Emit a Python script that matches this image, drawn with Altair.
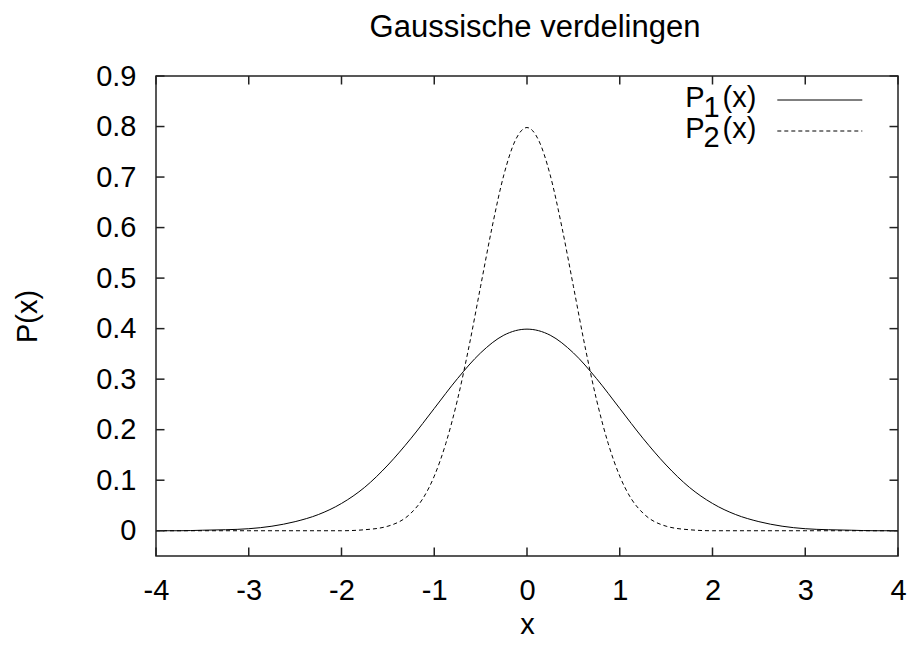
import altair as alt
import pandas as pd

# ---- data ----
x1 = [-4.0, -3.75, -3.5, -3.25, -3.0, -2.75, -2.5, -2.25, -2.0, -1.75, -1.5, -1.25,
      -1.0, -0.75, -0.5, -0.25, 0.0, 0.25, 0.5, 0.75, 1.0, 1.25, 1.5, 1.75, 2.0,
      2.25, 2.5, 2.75, 3.0, 3.25, 3.5, 3.75, 4.0]
p1 = [0.000, 0.000, 0.001, 0.002, 0.004, 0.009, 0.018, 0.032, 0.054, 0.086, 0.130, 0.183,
      0.242, 0.301, 0.352, 0.387, 0.399, 0.387, 0.352, 0.301, 0.242, 0.183, 0.130, 0.086, 0.054,
      0.032, 0.018, 0.009, 0.004, 0.002, 0.001, 0.000, 0.000]

x2 = [-4.0, -3.5, -3.0, -2.5, -2.0, -1.75, -1.5, -1.25, -1.125, -1.0, -0.875, -0.75,
      -0.625, -0.5, -0.375, -0.25, -0.125, 0.0, 0.125, 0.25, 0.375, 0.5, 0.625, 0.75,
      0.875, 1.0, 1.125, 1.25, 1.5, 1.75, 2.0, 2.5, 3.0, 3.5, 4.0]
p2 = [0.000, 0.000, 0.000, 0.000, 0.000, 0.002, 0.009, 0.035, 0.063, 0.108, 0.173, 0.259,
      0.365, 0.484, 0.602, 0.704, 0.773, 0.798, 0.773, 0.704, 0.602, 0.484, 0.365, 0.259,
      0.173, 0.108, 0.063, 0.035, 0.009, 0.002, 0.000, 0.000, 0.000, 0.000, 0.000]

x_ticks = [-4, -3, -2, -1, 0, 1, 2, 3, 4]
y_ticks = [0, 0.1, 0.2, 0.3, 0.4, 0.5, 0.6, 0.7, 0.8, 0.9]

title_text = "Gaussische verdelingen"
x_title = "x"
y_title = "P(x)"
legend_main = "P"
legend_sub = ["1", "2"]
legend_tail = "(x)"

# ---- layout / style ----
W, H = 742, 480
FONT = "Liberation Sans"
FS = 29
BORDER = "#222222"
TICK = 8.5

xs = alt.Scale(domain=[-4, 4], nice=False, zero=False)
ys = alt.Scale(domain=[-0.05, 0.9], nice=False, zero=False)

xaxis = alt.Axis(values=x_ticks, labelExpr="datum.value + ''", ticks=False, tickSize=0,
                 domain=False, grid=False, labelFontSize=FS, labelFont=FONT,
                 labelColor="black", labelPadding=20, labelFlush=False, labelOverlap=False,
                 title=x_title, titleFontSize=FS, titleFont=FONT, titleFontWeight="normal",
                 titleColor="black", titleX=W / 2, titleY=77, titleBaseline="alphabetic",
                 titleAlign="center")
yaxis = alt.Axis(values=y_ticks,
                 labelExpr="datum.value == 0 ? '0' : format(datum.value, '.1f')",
                 ticks=False, tickSize=0, domain=False, grid=False, labelFontSize=FS,
                 labelFont=FONT, labelColor="black", labelPadding=20, labelFlush=False,
                 labelOverlap=False, title=y_title, titleFontSize=FS, titleFont=FONT,
                 titleFontWeight="normal", titleColor="black", titleAngle=-90,
                 titleX=-129, titleY=H / 2, titleBaseline="middle", titleAlign="center")

d1 = pd.DataFrame({"x": x1, "y": p1})
d2 = pd.DataFrame({"x": x2, "y": p2})
dxt = pd.DataFrame({"x": x_ticks})
dyt = pd.DataFrame({"y": y_ticks})
one = pd.DataFrame({"k": [0]})

X = alt.X("x:Q", scale=xs, axis=xaxis)
Y = alt.Y("y:Q", scale=ys, axis=yaxis)

line1 = alt.Chart(d1).mark_line(color="black", strokeWidth=1, interpolate="monotone").encode(x=X, y=Y)
line2 = alt.Chart(d2).mark_line(color="black", strokeWidth=1, strokeDash=[4, 3],
                                interpolate="monotone").encode(x=X, y=Y)

tb = alt.Chart(dxt).mark_rule(color=BORDER, strokeWidth=1.5).encode(
    x=X, y=alt.value(H), y2=alt.value(H - TICK))
tt = alt.Chart(dxt).mark_rule(color=BORDER, strokeWidth=1.5).encode(
    x=X, y=alt.value(0), y2=alt.value(TICK))
tl = alt.Chart(dyt).mark_rule(color=BORDER, strokeWidth=1.5).encode(
    y=Y, x=alt.value(0), x2=alt.value(TICK))
tr = alt.Chart(dyt).mark_rule(color=BORDER, strokeWidth=1.5).encode(
    y=Y, x=alt.value(W), x2=alt.value(W - TICK))

title = alt.Chart(one).mark_text(align="center", baseline="alphabetic", fontSize=31,
                                 font=FONT, color="black").encode(
    x=alt.value(379), y=alt.value(-39.5), text=alt.value(title_text))

legend_layers = []
for i, sub in enumerate(legend_sub):
    dy = 30.5 * i
    legend_layers.append(alt.Chart(one).mark_text(align="left", baseline="alphabetic", fontSize=FS,
                                                  font=FONT, color="black").encode(
        x=alt.value(529.3), y=alt.value(31 + dy), text=alt.value(legend_main)))
    legend_layers.append(alt.Chart(one).mark_text(align="left", baseline="alphabetic", fontSize=FS,
                                                  font=FONT, color="black").encode(
        x=alt.value(547.5), y=alt.value(40.5 + dy), text=alt.value(sub)))
    legend_layers.append(alt.Chart(one).mark_text(align="right", baseline="alphabetic", fontSize=FS,
                                                  font=FONT, color="black").encode(
        x=alt.value(600.3), y=alt.value(31 + dy), text=alt.value(legend_tail)))

leg1 = alt.Chart(one).mark_rule(color="black", strokeWidth=1).encode(
    x=alt.value(621.3), x2=alt.value(706.3), y=alt.value(24))
leg2 = alt.Chart(one).mark_rule(color="black", strokeWidth=1, strokeDash=[4, 3]).encode(
    x=alt.value(621.3), x2=alt.value(706.3), y=alt.value(55))

chart = alt.layer(line1, line2, tb, tt, tl, tr, title, leg1, leg2, *legend_layers).properties(
    width=W, height=H,
    autosize=alt.AutoSizeParams(type="none"),
    padding={"left": 148, "top": 68, "right": 9, "bottom": 84},
    background="white",
).configure_view(stroke=BORDER, strokeWidth=1.5)

chart.save("out.html", embed_options={"renderer": "svg", "actions": False})
